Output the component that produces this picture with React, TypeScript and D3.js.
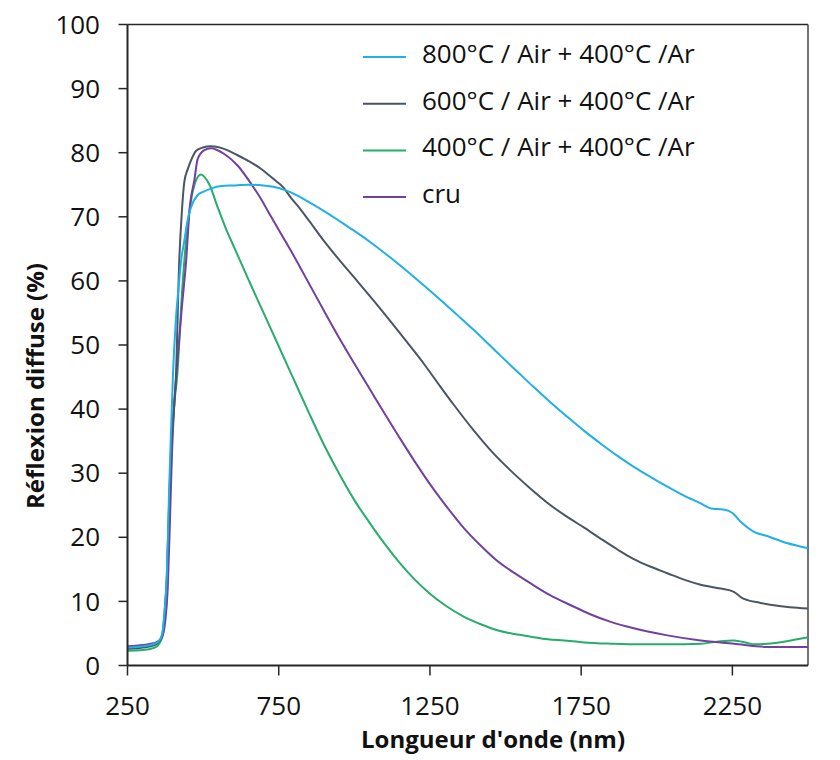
import React from "react";
import * as d3 from "d3";

const xTicks = [250, 750, 1250, 1750, 2250];
const yTicks = [0, 10, 20, 30, 40, 50, 60, 70, 80, 90, 100];

const seriesNames = [
  "800°C / Air + 400°C /Ar",
  "600°C / Air + 400°C /Ar",
  "400°C / Air + 400°C /Ar",
  "cru",
];
const seriesColors = ["#1fb0e8", "#4a5565", "#27ad6a", "#7140a0"];

// [wavelength nm, reflectance %]
const blue: [number, number][] = [
  [250, 2.8], [300, 3.0], [340, 3.4], [355, 3.9], [365, 5], [372, 8], [380, 14], [388, 28],
  [395, 38], [400, 45], [410, 54], [420, 59.5], [427, 63], [438, 66.3], [449, 69.5], [460, 71.5],
  [482, 73.4], [500, 73.9], [526, 74.4], [560, 74.8], [600, 74.9], [650, 75.0], [700, 74.9],
  [750, 74.5], [790, 73.8], [820, 73.1], [850, 72.3], [900, 70.9], [955, 69.2], [1000, 67.8],
  [1060, 65.8], [1120, 63.6], [1200, 60.5], [1286, 57.0], [1340, 54.7], [1396, 52.3],
  [1484, 48.3], [1540, 45.8], [1594, 43.4], [1650, 41.0], [1704, 38.8], [1760, 36.6],
  [1815, 34.6], [1870, 32.7], [1924, 31.0], [1980, 29.4], [2035, 27.9], [2090, 26.5],
  [2145, 25.3], [2180, 24.5], [2200, 24.4], [2225, 24.3], [2250, 23.8], [2280, 22.3],
  [2320, 20.9], [2365, 20.2], [2430, 19.1], [2500, 18.3],
];

const gray: [number, number][] = [
  [250, 2.6], [300, 2.8], [340, 3.2], [355, 3.8], [365, 4.8], [372, 8], [380, 14], [388, 26],
  [395, 35], [405, 41], [410, 45], [421, 63], [430, 71], [438, 75.5], [449, 77.4], [460, 78.8],
  [477, 80.3], [499, 80.8], [526, 81.0], [548, 80.9], [580, 80.4], [614, 79.6], [650, 78.7],
  [691, 77.5], [730, 76.0], [765, 74.6], [790, 73.0], [813, 71.7], [850, 69.4], [900, 66.2],
  [955, 63.0], [1011, 59.9], [1066, 56.8], [1121, 53.6], [1175, 50.4], [1231, 47.0],
  [1280, 43.8], [1330, 40.6], [1396, 36.6], [1450, 33.6], [1517, 30.4], [1580, 27.7],
  [1638, 25.4], [1700, 23.3], [1760, 21.5], [1814, 19.8], [1870, 18.1], [1924, 16.6],
  [1980, 15.4], [2035, 14.4], [2090, 13.4], [2145, 12.6], [2211, 12.0], [2255, 11.5],
  [2280, 10.6], [2300, 10.2], [2340, 9.8], [2387, 9.4], [2440, 9.1], [2500, 8.9],
];

const green: [number, number][] = [
  [250, 2.3], [300, 2.4], [340, 2.8], [355, 3.4], [365, 4.5], [375, 8], [383, 15], [390, 26],
  [397, 35], [405, 41], [414, 45], [430, 58], [445, 67], [460, 72.5], [475, 75.5], [493, 76.6],
  [505, 76.2], [521, 75.0], [548, 71.5], [575, 68.2], [603, 65.2], [650, 60.2], [700, 55.0],
  [750, 49.8], [800, 44.6], [850, 39.4], [900, 34.4], [950, 29.9], [1000, 25.8], [1050, 22.3],
  [1100, 19.0], [1150, 16.0], [1200, 13.4], [1250, 11.2], [1300, 9.4], [1363, 7.6],
  [1420, 6.4], [1473, 5.5], [1530, 4.9], [1583, 4.5], [1640, 4.1], [1693, 3.9], [1760, 3.6],
  [1848, 3.4], [1924, 3.3], [2035, 3.3], [2145, 3.4], [2211, 3.8], [2255, 3.9], [2300, 3.5],
  [2321, 3.3], [2365, 3.4], [2430, 3.8], [2500, 4.4],
];

const purple: [number, number][] = [
  [250, 3.0], [300, 3.2], [340, 3.5], [355, 3.9], [365, 4.5], [375, 7], [383, 12], [390, 22],
  [397, 33], [405, 41], [416, 48], [430, 56], [444, 63.2], [456, 71.5], [471, 75.7], [482, 79.0],
  [504, 80.4], [526, 80.7], [570, 79.8], [614, 78.0], [658, 75.2], [691, 72.8], [713, 71.0],
  [757, 67.4], [801, 63.8], [850, 59.6], [900, 55.3], [950, 51.1], [1000, 47.1], [1050, 43.2],
  [1100, 39.3], [1150, 35.5], [1200, 31.8], [1250, 28.3], [1300, 25.1], [1363, 21.4],
  [1420, 18.6], [1473, 16.3], [1530, 14.4], [1583, 12.8], [1650, 10.9], [1716, 9.4],
  [1780, 8.0], [1848, 6.8], [1924, 5.8], [2035, 4.7], [2145, 3.9], [2255, 3.4], [2365, 2.9],
  [2500, 2.9],
];

const seriesData = [blue, gray, green, purple];

export default function App() {
  const W = 840;
  const H = 760;
  const left = 127.5;
  const right = 808;
  const top = 24.5;
  const bottom = 665.5;

  const x = d3.scaleLinear().domain([250, 2500]).range([left, right]);
  const y = d3.scaleLinear().domain([0, 100]).range([bottom, top]);

  const line = d3
    .line<[number, number]>()
    .x((d) => x(d[0]))
    .y((d) => y(d[1]))
    .curve(d3.curveMonotoneX);

  const font = "'Open Sans', 'Liberation Sans', sans-serif";
  const axisColor = "#262626";

  const drawOrder = [2, 3, 1, 0];

  return (
    <svg
      width={W}
      height={H}
      style={{ position: "absolute", left: 0, top: 0, background: "#fff" }}
      fontFamily={font}
    >
      <rect x={0} y={0} width={W} height={H} fill="#fff" />
      <line x1={left} x2={right} y1={top} y2={top} stroke={axisColor} strokeWidth={1.5} />
      <line x1={right} x2={right} y1={top} y2={bottom} stroke="#444" strokeWidth={1.5} />

      <g fill="none" strokeWidth={2} strokeLinejoin="round">
        {drawOrder.map((i) => (
          <path key={i} d={line(seriesData[i]) || ""} stroke={seriesColors[i]} />
        ))}
      </g>

      <line x1={left} x2={left} y1={top} y2={bottom} stroke={axisColor} strokeWidth={2} />
      <line x1={left} x2={right} y1={bottom} y2={bottom} stroke={axisColor} strokeWidth={2} />
      {yTicks.map((t) => (
        <g key={"y" + t}>
          <line x1={left - 9} x2={left} y1={y(t)} y2={y(t)} stroke={axisColor} strokeWidth={1.5} />
          <text x={100} y={y(t)} dy="0.35em" textAnchor="end" fontSize={26} fill="#111">
            {t}
          </text>
        </g>
      ))}
      {xTicks.map((t) => (
        <g key={"x" + t}>
          <line x1={x(t)} x2={x(t)} y1={bottom} y2={bottom + 10} stroke={axisColor} strokeWidth={1.5} />
          <text x={x(t)} y={715} textAnchor="middle" fontSize={26} fill="#111">
            {t}
          </text>
        </g>
      ))}

      <text x={493} y={748} textAnchor="middle" fontSize={24} fontWeight="bold" fill="#111">
        Longueur d'onde (nm)
      </text>
      <text
        transform={`translate(44, 386) rotate(-90)`}
        textAnchor="middle"
        fontSize={24}
        fontWeight="bold"
        fill="#111"
      >
        Réflexion diffuse (%)
      </text>

      {seriesNames.map((name, i) => {
        const base = 63 + i * 46.7;
        return (
          <g key={name}>
            <line x1={363} x2={406} y1={base - 6} y2={base - 6} stroke={seriesColors[i]} strokeWidth={2} />
            <text x={422} y={base} fontSize={26} fill="#111">
              {name}
            </text>
          </g>
        );
      })}
    </svg>
  );
}
